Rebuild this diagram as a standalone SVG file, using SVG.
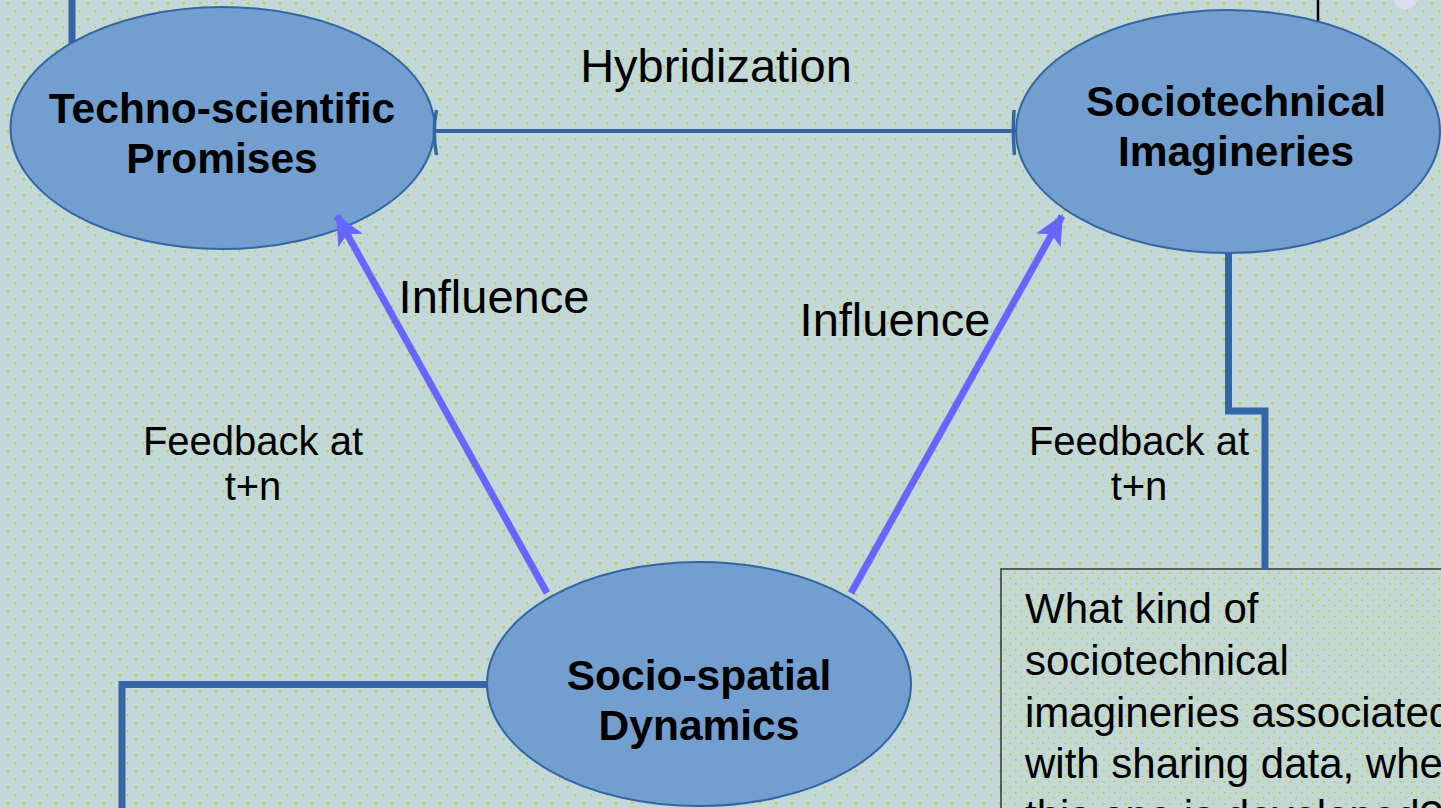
<svg xmlns="http://www.w3.org/2000/svg" width="1441" height="808" viewBox="0 0 1441 808">
<defs>
<pattern id="dots" x="0" y="0" width="16" height="16" patternUnits="userSpaceOnUse">
<rect x="7" y="2" width="2" height="2" fill="#D2CA00"/>
<rect x="15" y="10" width="2" height="2" fill="#D2CA00"/>
</pattern>
<pattern id="dotsSmall" x="1001" y="569" width="11" height="11" patternUnits="userSpaceOnUse">
<rect x="3" y="3" width="1.6" height="1.6" fill="#D2CA00"/>
<rect x="8.5" y="8.5" width="1.6" height="1.6" fill="#D2CA00"/>
</pattern>
<marker id="arrow" viewBox="0 0 30 28" refX="28" refY="14" markerWidth="30" markerHeight="28" markerUnits="userSpaceOnUse" orient="auto">
<path d="M0,0 L30,14 L0,28 L7,14 Z" fill="#6666FF"/>
</marker>
<style>
.node ellipse{fill:#729FCF;stroke:#3465A4;stroke-width:2}
.nodelabel{font-family:"Liberation Sans",Arial,sans-serif;font-weight:bold;font-size:42.5px;fill:#000;text-anchor:middle}
.lbl{font-family:"Liberation Sans",Arial,sans-serif;fill:#000}
.big{font-size:47px;text-anchor:middle}
.mid{font-size:40px;text-anchor:middle}
.boxtxt{font-size:42px}
.conn{fill:none;stroke:#3465A4;stroke-width:7}
.infl{fill:none;stroke:#6666FF;stroke-width:7;marker-end:url(#arrow)}
.tick{fill:none;stroke:#3465A4;stroke-width:3.5}
</style>
</defs>
<rect width="1441" height="808" fill="#C2D8D7"/>
<rect width="1441" height="808" fill="url(#dots)"/>
<circle cx="1405.5" cy="-3" r="12.5" fill="#DCDCF0"/>
<line x1="1318" y1="0" x2="1318" y2="22" stroke="#000" stroke-width="2.5"/>

<g id="question-box">
<rect x="1001" y="569" width="460" height="260" fill="#C2D8D7" stroke="#333" stroke-width="1.5"/>
<rect x="1002" y="570" width="459" height="259" fill="url(#dotsSmall)"/>
<text class="lbl boxtxt" x="1025" y="623">What kind of</text>
<text class="lbl boxtxt" x="1025" y="675">sociotechnical</text>
<text class="lbl boxtxt" x="1025" y="727">imagineries associated</text>
<text class="lbl boxtxt" x="1025" y="778">with sharing data, when</text>
<text class="lbl boxtxt" x="1025" y="830">this one is developed?</text>
</g>

<g id="connectors">
<path class="conn" d="M72,0 V48"/>
<path class="conn" d="M1228.5,250 V411 H1265 V569"/>
<path class="conn" d="M490,684.5 H122 V808"/>
<line x1="434" y1="131" x2="1016" y2="131" stroke="#3465A4" stroke-width="4"/>
</g>

<g id="techno-scientific-promises" class="node">
<ellipse cx="222.5" cy="128" rx="212" ry="121"/>
<text class="nodelabel" x="222" y="123">Techno-scientific</text>
<text class="nodelabel" x="222" y="173">Promises</text>
</g>
<g id="sociotechnical-imagineries" class="node">
<ellipse cx="1228" cy="131.5" rx="212" ry="121.5"/>
<text class="nodelabel" x="1236" y="116">Sociotechnical</text>
<text class="nodelabel" x="1236" y="166">Imagineries</text>
</g>
<g id="socio-spatial-dynamics" class="node">
<ellipse cx="699" cy="684" rx="212" ry="122"/>
<text class="nodelabel" x="699" y="690">Socio-spatial</text>
<text class="nodelabel" x="699" y="740">Dynamics</text>
</g>

<g id="hybridization-ends">
<path class="tick" d="M436.5,110 Q432,132 436.5,155"/>
<path class="tick" d="M1014,110 Q1012.5,132 1014.5,155"/>
</g>

<g id="influence-arrows">
<line class="infl" x1="547" y1="593" x2="337" y2="216"/>
<line class="infl" x1="851" y1="593" x2="1062" y2="216"/>
</g>

<g id="labels">
<text class="lbl big" x="716" y="82">Hybridization</text>
<text class="lbl big" x="494" y="313">Influence</text>
<text class="lbl big" x="895" y="336">Influence</text>
<text class="lbl mid" x="253" y="455">Feedback at</text>
<text class="lbl mid" x="253" y="500">t+n</text>
<text class="lbl mid" x="1139" y="455">Feedback at</text>
<text class="lbl mid" x="1139" y="500">t+n</text>
</g>
</svg>
